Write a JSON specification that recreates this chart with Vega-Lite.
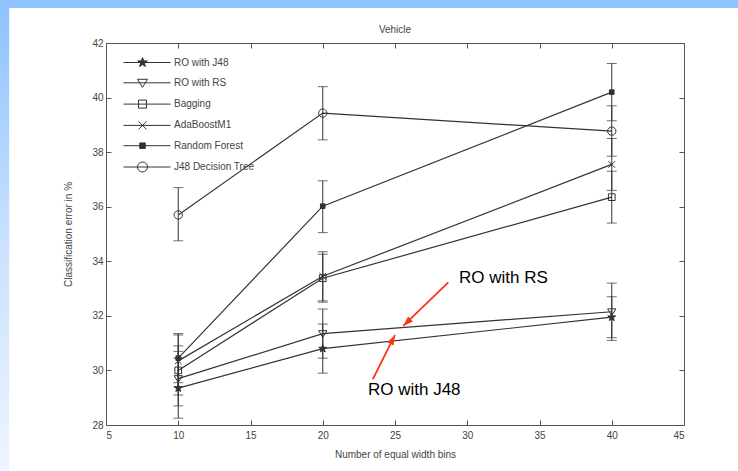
{
  "$schema": "https://vega.github.io/schema/vega-lite/v6.json",
  "width": 578,
  "height": 382,
  "autosize": {"type": "none"},
  "padding": {"left": 106, "top": 43, "right": 54, "bottom": 46},
  "background": "white",
  "config": {
    "view": {"stroke": "#555", "strokeWidth": 1},
    "font": "Liberation Sans",
    "axis": {
      "labelFont": "Liberation Sans",
      "labelFontSize": 10,
      "labelColor": "#444",
      "titleFont": "Liberation Sans",
      "titleFontSize": 10,
      "titleFontWeight": "normal",
      "titleColor": "#444",
      "grid": false,
      "domain": false,
      "tickColor": "#555",
      "tickSize": -5
    }
  },
  "title": {"text": "Vehicle", "fontSize": 10, "fontWeight": "normal", "color": "#444", "font": "Liberation Sans", "offset": -35},
  "datasets": {
    "results": [
      {"series": "RO with J48", "bins": 10, "err": 29.35, "lo": 28.25, "hi": 30.45},
      {"series": "RO with J48", "bins": 20, "err": 30.8, "lo": 29.9, "hi": 31.7},
      {"series": "RO with J48", "bins": 40, "err": 31.95, "lo": 31.2, "hi": 32.7},
      {"series": "RO with RS", "bins": 10, "err": 29.7, "lo": 28.7, "hi": 30.7},
      {"series": "RO with RS", "bins": 20, "err": 31.35, "lo": 30.45, "hi": 32.25},
      {"series": "RO with RS", "bins": 40, "err": 32.15, "lo": 31.1, "hi": 33.2},
      {"series": "Bagging", "bins": 10, "err": 30.0, "lo": 29.1, "hi": 30.9},
      {"series": "Bagging", "bins": 20, "err": 33.38, "lo": 32.5, "hi": 34.26},
      {"series": "Bagging", "bins": 40, "err": 36.35, "lo": 35.4, "hi": 37.3},
      {"series": "AdaBoostM1", "bins": 10, "err": 30.35, "lo": 29.4, "hi": 31.3},
      {"series": "AdaBoostM1", "bins": 20, "err": 33.45, "lo": 32.55, "hi": 34.35},
      {"series": "AdaBoostM1", "bins": 40, "err": 37.55, "lo": 36.6, "hi": 38.5},
      {"series": "Random Forest", "bins": 10, "err": 30.45, "lo": 29.55, "hi": 31.35},
      {"series": "Random Forest", "bins": 20, "err": 36.02, "lo": 35.05, "hi": 36.95},
      {"series": "Random Forest", "bins": 40, "err": 40.2, "lo": 39.15, "hi": 41.25},
      {"series": "J48 Decision Tree", "bins": 10, "err": 35.7, "lo": 34.75, "hi": 36.7},
      {"series": "J48 Decision Tree", "bins": 20, "err": 39.43, "lo": 38.45, "hi": 40.4},
      {"series": "J48 Decision Tree", "bins": 40, "err": 38.77, "lo": 37.85, "hi": 39.7}
    ],
    "notes": [
      {"label": "RO with RS", "bins": 29.43, "err": 33.39},
      {"label": "RO with J48", "bins": 23.13, "err": 29.28}
    ],
    "arrows": [
      {"name": "RO with RS", "bins": 28.69, "err": 33.23, "tipBins": 25.57, "tipErr": 31.63, "heading": 226},
      {"name": "RO with J48", "bins": 23.46, "err": 29.67, "tipBins": 25.0, "tipErr": 31.3, "heading": 27}
    ]
  },
  "layer": [
    {
      "data": {"values": [{}]},
      "mark": {"type": "rect", "color": "#8fc3ff", "clip": false},
      "encoding": {
        "x": {"datum": -2.6, "type": "quantitative", "scale": {"domain": [5, 45]}, "axis": null},
        "x2": {"datum": 49},
        "y": {"datum": 43.58, "type": "quantitative", "scale": {"domain": [28, 42]}, "axis": null},
        "y2": {"datum": 43.28}
      }
    },
    {
      "data": {"values": [{}]},
      "mark": {
        "type": "rect",
        "clip": false,
        "color": {
          "gradient": "linear",
          "x1": 0, "y1": 0, "x2": 0, "y2": 1,
          "stops": [
            {"offset": 0, "color": "#8fc3ff"},
            {"offset": 0.5, "color": "#c9e1ff"},
            {"offset": 1, "color": "#eef5ff"}
          ]
        }
      },
      "encoding": {
        "x": {"datum": -2.6, "type": "quantitative", "scale": {"domain": [5, 45]}, "axis": null},
        "x2": {"datum": -1.7},
        "y": {"datum": 43.28, "type": "quantitative", "scale": {"domain": [28, 42]}, "axis": null},
        "y2": {"datum": 26.2}
      }
    },
    {
      "data": {"name": "results"},
      "mark": {"type": "errorbar", "ticks": {"size": 10}, "color": "#333", "thickness": 1},
      "encoding": {
        "x": {
          "field": "bins", "type": "quantitative",
          "scale": {"domain": [5, 45]},
          "axis": {"values": [5, 10, 15, 20, 25, 30, 35, 40, 45], "title": "Number of equal width bins", "labelPadding": 10, "titlePadding": 9}
        },
        "y": {
          "field": "lo", "type": "quantitative",
          "scale": {"domain": [28, 42]},
          "axis": {"values": [28, 30, 32, 34, 36, 38, 40, 42], "title": "Classification error in %", "labelPadding": 8, "titlePadding": 18}
        },
        "y2": {"field": "hi"}
      }
    },
    {
      "data": {"name": "results"},
      "mark": {"type": "line", "color": "#333", "strokeWidth": 1.2},
      "encoding": {
        "x": {
          "field": "bins", "type": "quantitative",
          "scale": {"domain": [5, 45]},
          "axis": {"orient": "top", "values": [5, 10, 15, 20, 25, 30, 35, 40, 45], "labels": false, "title": null}
        },
        "y": {
          "field": "err", "type": "quantitative",
          "scale": {"domain": [28, 42]},
          "axis": {"orient": "right", "values": [28, 30, 32, 34, 36, 38, 40, 42], "labels": false, "title": null}
        },
        "detail": {"field": "series"}
      }
    },
    {
      "data": {"name": "results"},
      "mark": {"type": "point", "stroke": "#333", "strokeWidth": 1, "size": 70, "opacity": 1},
      "encoding": {
        "x": {"field": "bins", "type": "quantitative", "scale": {"domain": [5, 45]}, "axis": null},
        "y": {"field": "err", "type": "quantitative", "scale": {"domain": [28, 42]}, "axis": null},
        "shape": {
          "field": "series", "type": "nominal", "legend": null,
          "scale": {
            "domain": ["RO with J48", "RO with RS", "Bagging", "AdaBoostM1", "Random Forest", "J48 Decision Tree"],
            "range": [
              "M0,-1L0.235,-0.324L0.951,-0.309L0.38,0.124L0.588,0.809L0,0.4L-0.588,0.809L-0.38,0.124L-0.951,-0.309L-0.235,-0.324Z",
              "M-1,-0.7L1,-0.7L0,0.9Z",
              "M-0.8,-0.8L0.8,-0.8L0.8,0.8L-0.8,0.8Z",
              "M-0.8,-0.8L0.8,0.8M-0.8,0.8L0.8,-0.8",
              "M-0.55,-0.55L0.55,-0.55L0.55,0.55L-0.55,0.55Z",
              "M1,0A1,1 0 1,1 -1,0A1,1 0 1,1 1,0Z"
            ]
          }
        },
        "fill": {
          "field": "series", "type": "nominal", "legend": null,
          "scale": {
            "domain": ["RO with J48", "RO with RS", "Bagging", "AdaBoostM1", "Random Forest", "J48 Decision Tree"],
            "range": ["#333", "transparent", "transparent", "transparent", "#333", "transparent"]
          }
        }
      }
    },
    {
      "data": {"name": "results"},
      "mark": {"type": "point", "stroke": "#333", "strokeWidth": 1, "size": 100, "opacity": 0},
      "encoding": {
        "shape": {
          "field": "series", "type": "nominal",
          "scale": {
            "domain": ["RO with J48", "RO with RS", "Bagging", "AdaBoostM1", "Random Forest", "J48 Decision Tree"],
            "range": [
              "M-3.8,0L5.6,0M0,-1L0.235,-0.324L0.951,-0.309L0.38,0.124L0.588,0.809L0,0.4L-0.588,0.809L-0.38,0.124L-0.951,-0.309L-0.235,-0.324Z",
              "M-3.8,0L5.6,0M-1,-0.7L1,-0.7L0,0.9Z",
              "M-3.8,0L5.6,0M-0.8,-0.8L0.8,-0.8L0.8,0.8L-0.8,0.8Z",
              "M-3.8,0L5.6,0M-0.8,-0.8L0.8,0.8M-0.8,0.8L0.8,-0.8",
              "M-3.8,0L5.6,0M-0.55,-0.55L0.55,-0.55L0.55,0.55L-0.55,0.55Z",
              "M-3.8,0L5.6,0M1,0A1,1 0 1,1 -1,0A1,1 0 1,1 1,0Z"
            ]
          },
          "legend": {
            "orient": "none", "legendX": 31, "legendY": 14, "title": null,
            "symbolSize": 100, "labelOffset": 26, "rowPadding": 8.3, "padding": 0,
            "labelFont": "Liberation Sans", "labelFontSize": 10, "labelColor": "#444",
            "symbolStrokeColor": "#333", "symbolStrokeWidth": 1, "symbolOpacity": 1,
            "encode": {"symbols": {"update": {"stroke": {"value": "#333"}, "strokeWidth": {"value": 1}, "opacity": {"value": 1}}}}
          }
        },
        "fill": {
          "field": "series", "type": "nominal",
          "scale": {
            "domain": ["RO with J48", "RO with RS", "Bagging", "AdaBoostM1", "Random Forest", "J48 Decision Tree"],
            "range": ["#333", "transparent", "transparent", "transparent", "#333", "transparent"]
          },
          "legend": {
            "orient": "none", "legendX": 31, "legendY": 14, "title": null,
            "symbolSize": 100, "labelOffset": 26, "rowPadding": 8.3, "padding": 0,
            "labelFont": "Liberation Sans", "labelFontSize": 10, "labelColor": "#444",
            "symbolStrokeColor": "#333", "symbolStrokeWidth": 1, "symbolOpacity": 1,
            "encode": {"symbols": {"update": {"stroke": {"value": "#333"}, "strokeWidth": {"value": 1}, "opacity": {"value": 1}}}}
          }
        }
      }
    },
    {
      "data": {"name": "arrows"},
      "mark": {"type": "rule", "color": "#ff3311", "strokeWidth": 1.8},
      "encoding": {
        "x": {"field": "bins", "type": "quantitative", "scale": {"domain": [5, 45]}, "axis": null},
        "y": {"field": "err", "type": "quantitative", "scale": {"domain": [28, 42]}, "axis": null},
        "x2": {"field": "tipBins"},
        "y2": {"field": "tipErr"}
      }
    },
    {
      "data": {"name": "arrows"},
      "mark": {"type": "point", "shape": "M0,0L-0.45,1.3L0.45,1.3Z", "filled": true, "color": "#ff3311", "size": 240, "opacity": 1},
      "encoding": {
        "x": {"field": "tipBins", "type": "quantitative", "scale": {"domain": [5, 45]}, "axis": null},
        "y": {"field": "tipErr", "type": "quantitative", "scale": {"domain": [28, 42]}, "axis": null},
        "angle": {"field": "heading", "type": "quantitative", "scale": null}
      }
    },
    {
      "data": {"name": "notes"},
      "mark": {"type": "text", "align": "left", "baseline": "middle", "font": "Liberation Sans", "fontSize": 17, "color": "#000"},
      "encoding": {
        "x": {"field": "bins", "type": "quantitative", "scale": {"domain": [5, 45]}, "axis": null},
        "y": {"field": "err", "type": "quantitative", "scale": {"domain": [28, 42]}, "axis": null},
        "text": {"field": "label"}
      }
    }
  ],
  "resolve": {
    "scale": {"shape": "independent", "fill": "independent"},
    "axis": {"x": "independent", "y": "independent"}
  }
}
